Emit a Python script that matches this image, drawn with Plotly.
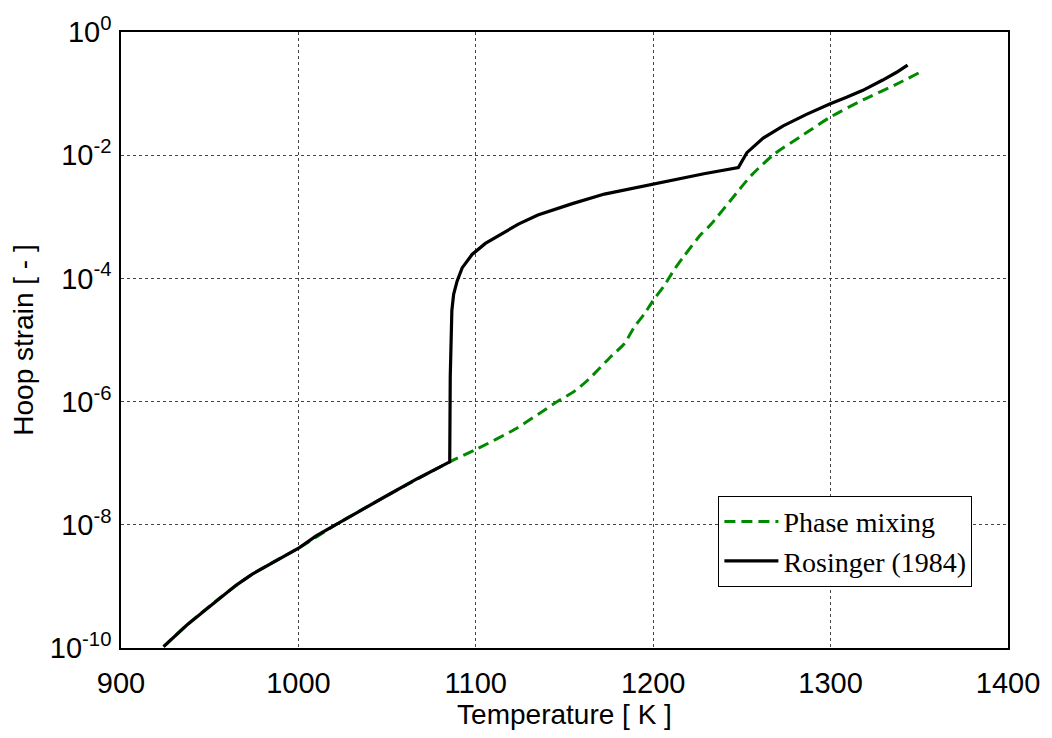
import plotly.graph_objects as go

# Temperature [K] and hoop strain [-]
rosinger_T = [924, 930, 937, 946, 956, 965, 974, 987, 1000.6, 1010, 1021, 1035,
              1049, 1067, 1085.3, 1085.6, 1085.9,
              1086.5, 1087.5, 1089.5, 1092.3, 1097.9, 1105.4, 1113.8, 1124, 1135,
              1154, 1172.5, 1186, 1200, 1214, 1228.6, 1248, 1252.8, 1262, 1273.3,
              1286.4, 1299.5, 1309, 1318.2, 1329.4, 1337, 1343.4]
rosinger_strain = [1.05e-10, 1.5e-10, 2.34e-10, 3.8e-10, 6.6e-10, 1.05e-9, 1.58e-9,
                   2.6e-9, 4.27e-9, 6.6e-9, 1.0e-8, 1.74e-8, 2.88e-8, 5.6e-8,
                   1.05e-7, 2.5e-6, 1.26e-5, 3.0e-5, 5.5e-5, 9.1e-5, 1.48e-4,
                   2.45e-4, 3.7e-4, 5.1e-4, 7.6e-4, 1.07e-3, 1.62e-3, 2.34e-3,
                   2.82e-3, 3.4e-3, 4.1e-3, 5.0e-3, 6.3e-3, 1.1e-2, 1.9e-2,
                   3.0e-2, 4.6e-2, 6.8e-2, 8.7e-2, 0.113, 0.166, 0.22, 0.29]

phase_T = [924, 937, 956, 974, 1000.6, 1021, 1049, 1085.3, 1100.6, 1122, 1135,
           1146.4, 1155.7, 1163.2, 1176.2, 1183.7, 1189.3, 1194.9, 1200, 1206.2,
           1211.8, 1217.4, 1226.7, 1232.3, 1247.3, 1255.3, 1268.4, 1285.2,
           1299.5, 1318.2, 1336.9, 1350]
phase_strain = [1.05e-10, 2.34e-10, 6.6e-10, 1.58e-9, 4.27e-9, 1.0e-8, 2.88e-8,
                1.05e-7, 1.7e-7, 3.55e-7, 6.2e-7, 1.02e-6, 1.48e-6, 2.24e-6,
                5.4e-6, 8.7e-6, 1.62e-5, 2.63e-5, 4.4e-5, 7.6e-5, 1.38e-4,
                2.3e-4, 5.1e-4, 7.4e-4, 2.5e-3, 4.7e-3, 1.05e-2, 2.2e-2,
                4.1e-2, 7.9e-2, 0.141, 0.219]

x_ticks = [900, 1000, 1100, 1200, 1300, 1400]
y_ticks = [1e-10, 1e-8, 1e-6, 1e-4, 1e-2, 1]
y_ticktext = ["10<sup>-10</sup>", "10<sup>-8</sup>", "10<sup>-6</sup>",
              "10<sup>-4</sup>", "10<sup>-2</sup>", "10<sup>0</sup>"]

fig = go.Figure()
fig.add_trace(go.Scatter(
    x=phase_T, y=phase_strain, mode="lines", name="Phase mixing",
    line=dict(color="#008a00", width=3, dash="11px,6px", shape="spline", smoothing=0.7),
))
fig.add_trace(go.Scatter(
    x=rosinger_T, y=rosinger_strain, mode="lines", name="Rosinger (1984)",
    line=dict(color="black", width=3.2),
))

axis_font = dict(family="Liberation Sans, Arial, sans-serif", size=29, color="black")
title_font = dict(family="Liberation Sans, Arial, sans-serif", size=28, color="black")
grid = dict(showgrid=True, gridcolor="#444", griddash="dot", gridwidth=1,
            showline=True, linecolor="black", linewidth=1.5, mirror=True,
            ticks="", zeroline=False, tickfont=axis_font)

fig.update_xaxes(range=[900, 1400], tickvals=x_ticks, ticklabelstandoff=8,
                 title=dict(text="Temperature [ K ]", font=title_font, standoff=4),
                 **grid)
fig.update_yaxes(type="log", range=[-10, 0], tickvals=y_ticks, ticktext=y_ticktext,
                 ticklabelstandoff=2,
                 title=dict(text="Hoop strain [ - ]", font=title_font, standoff=8),
                 **grid)

fig.update_layout(
    width=1052, height=738,
    margin=dict(l=120.5, r=39.5, t=24.6, b=89.9),
    paper_bgcolor="white", plot_bgcolor="white",
    legend=dict(x=0.6735, y=0.247, xanchor="left", yanchor="top",
                bgcolor="white", bordercolor="black", borderwidth=1,
                font=dict(family="Liberation Serif, Times New Roman, serif",
                          size=28, color="black"),
                tracegroupgap=0, itemwidth=54),
    showlegend=True,
)

fig.write_html("out.html")
